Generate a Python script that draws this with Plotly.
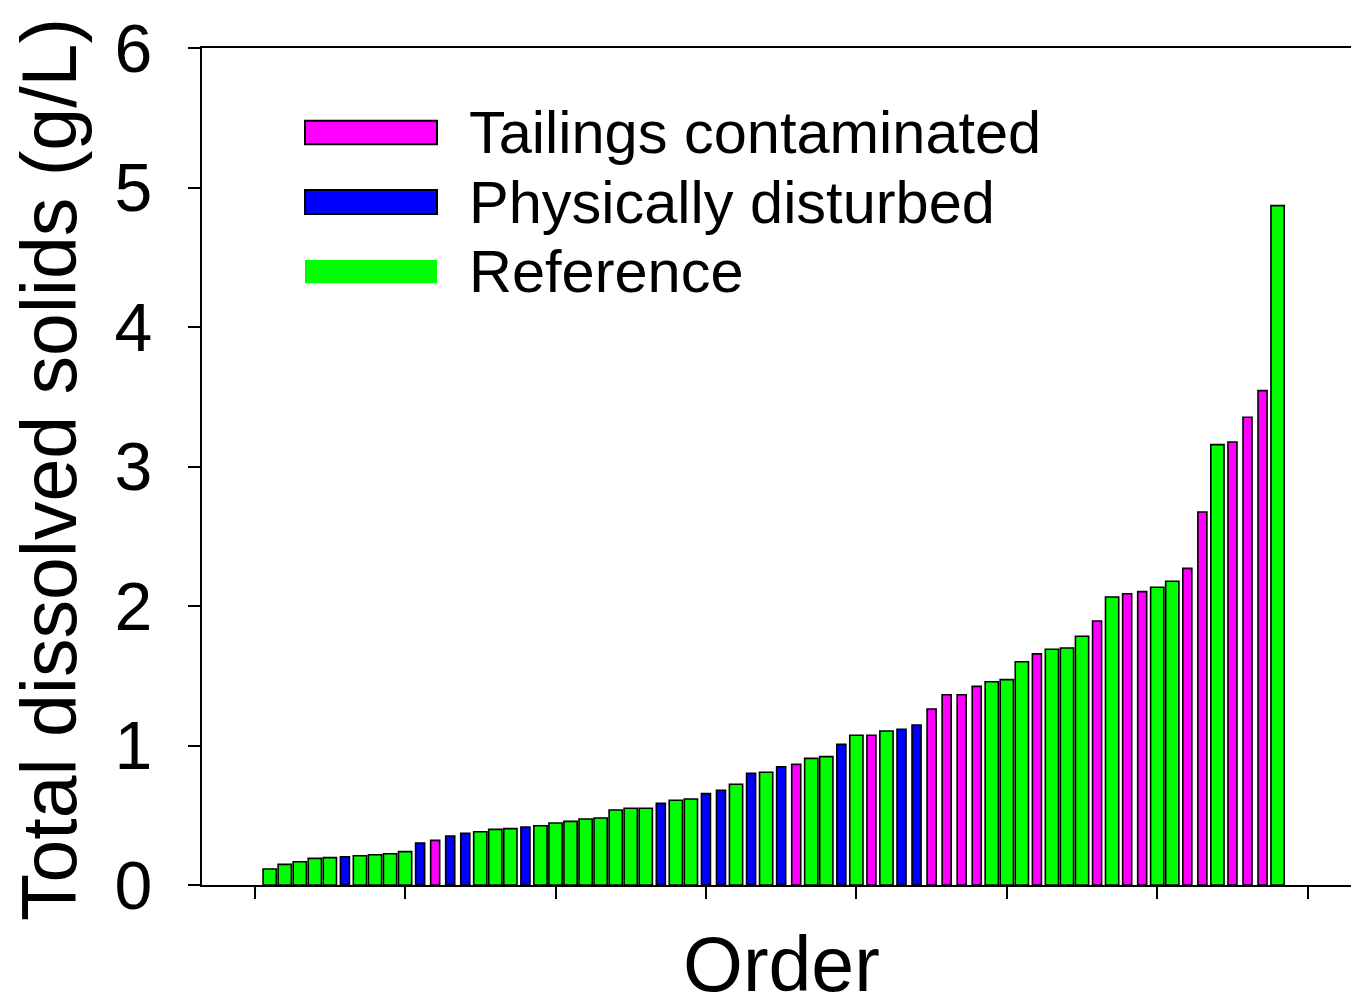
import plotly.graph_objects as go

# Data (sorted order, 68 sites)
tds = [0.115, 0.148, 0.167, 0.191, 0.196, 0.203, 0.210, 0.217, 0.224, 0.239,
       0.301, 0.320, 0.351, 0.370, 0.382, 0.399, 0.404, 0.416, 0.425, 0.444,
       0.456, 0.473, 0.480, 0.538, 0.550, 0.550, 0.585, 0.607, 0.616, 0.655,
       0.679, 0.722, 0.800, 0.808, 0.848, 0.865, 0.908, 0.920, 1.008, 1.073,
       1.073, 1.104, 1.116, 1.147, 1.262, 1.364, 1.364, 1.424, 1.457, 1.472,
       1.600, 1.657, 1.690, 1.699, 1.783, 1.892, 2.064, 2.088, 2.103, 2.134,
       2.177, 2.270, 2.674, 3.157, 3.176, 3.353, 3.544, 4.870]
group = ["R", "R", "R", "R", "R", "P", "R", "R", "R", "R",
         "P", "T", "P", "P", "R", "R", "R", "P", "R", "R",
         "R", "R", "R", "R", "R", "R", "P", "R", "R", "P",
         "P", "R", "P", "R", "P", "T", "R", "R", "P", "R",
         "T", "R", "P", "P", "T", "T", "T", "T", "R", "R",
         "R", "T", "R", "R", "R", "T", "R", "T", "T", "R",
         "R", "T", "T", "R", "T", "T", "T", "R"]
order = list(range(1, len(tds) + 1))

series_names = {"T": "Tailings contaminated", "P": "Physically disturbed", "R": "Reference"}
series_colors = {"T": "#FF00FF", "P": "#0000FF", "R": "#00FF00"}
series_widths = {"T": 0.6, "P": 0.6, "R": 0.88}

y_ticks = [0, 1, 2, 3, 4, 5, 6]
x_ticks = [0, 10, 20, 30, 40, 50, 60, 70]

W, H = 1351, 1007
L, R, T, B = 202, 0, 48, 122
pw, ph = W - L - R, H - T - B

fig = go.Figure()
for code in ["T", "P", "R"]:
    xs = [o for o, g in zip(order, group) if g == code]
    ys = [v for v, g in zip(tds, group) if g == code]
    fig.add_trace(go.Bar(
        x=xs, y=ys, name=series_names[code], width=series_widths[code],
        marker=dict(color=series_colors[code], line=dict(color="black", width=1.6)),
        showlegend=False,
    ))

FONT = "Liberation Sans, Arial, sans-serif"

fig.update_layout(
    width=W, height=H,
    margin=dict(l=L, r=R, t=T, b=B),
    plot_bgcolor="white", paper_bgcolor="white",
    barmode="overlay",
    font=dict(family=FONT, color="black"),
    xaxis=dict(
        range=[-3.5, 72.88], tickvals=x_ticks, showticklabels=False,
        ticks="outside", ticklen=12, tickwidth=2, tickcolor="black",
        showline=True, linecolor="black", linewidth=2, mirror=True,
        showgrid=False, zeroline=False,
    ),
    yaxis=dict(
        range=[0, 6], tickvals=y_ticks,
        ticks="outside", ticklen=12, tickwidth=2, tickcolor="black",
        showline=True, linecolor="black", linewidth=2, mirror=False,
        showgrid=False, zeroline=False,
        tickfont=dict(family=FONT, size=68, color="black"),
        ticklabelstandoff=22,
    ),
)

def px_x(p):
    return (p - L) / pw

def px_y(p):
    return (H - B - p) / ph

# Axis titles
fig.add_annotation(text="Order", xref="paper", yref="paper",
                   x=px_x(781), y=px_y(964), xanchor="center", yanchor="middle",
                   showarrow=False, font=dict(family=FONT, size=77, color="black"))
fig.add_annotation(text="Total dissolved solids (g/L)", xref="paper", yref="paper",
                   x=px_x(49), y=px_y(470), xanchor="center", yanchor="middle",
                   textangle=-90, showarrow=False,
                   font=dict(family=FONT, size=77, color="black"))

# Legend (drawn manually to match large swatches)
legend_rows = [("T", 120.7, 144.3, True), ("P", 190.0, 214.0, True), ("R", 260.0, 283.3, False)]
for code, y0, y1, border in legend_rows:
    fig.add_shape(type="rect", xref="paper", yref="paper",
                  x0=px_x(305), x1=px_x(437), y0=px_y(y1), y1=px_y(y0),
                  fillcolor=series_colors[code],
                  line=dict(color="black" if border else series_colors[code], width=2 if border else 0))
    fig.add_annotation(text=series_names[code], xref="paper", yref="paper",
                       x=px_x(467), y=px_y((y0 + y1) / 2), xanchor="left", yanchor="middle",
                       showarrow=False, font=dict(family=FONT, size=59.5, color="black"))

fig.write_html("out.html")
